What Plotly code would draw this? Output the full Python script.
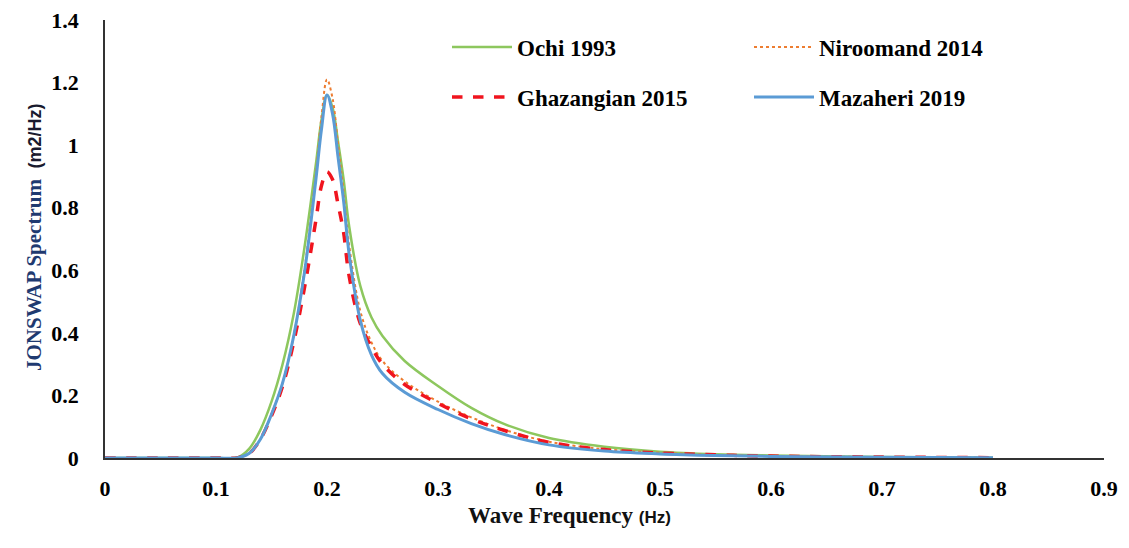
import plotly.graph_objects as go

freq = [0.00, 0.05, 0.10, 0.12, 0.13, 0.14, 0.15, 0.16, 0.17, 0.18, 0.19, 0.195, 0.20, 0.205, 0.21,
        0.215, 0.22, 0.23, 0.24, 0.25, 0.27, 0.30, 0.33, 0.36, 0.40, 0.45, 0.50, 0.55, 0.60, 0.70, 0.80]

ochi_1993 = [0, 0, 0, 0.003, 0.03, 0.09, 0.18, 0.30, 0.46, 0.68, 0.94, 1.08, 1.16, 1.12, 1.01,
             0.89, 0.74, 0.55, 0.45, 0.39, 0.31, 0.23, 0.16, 0.108, 0.064, 0.036, 0.02, 0.012, 0.008, 0.003, 0.001]
niroomand_2014 = [0, 0, 0, 0.001, 0.015, 0.06, 0.14, 0.24, 0.39, 0.61, 0.91, 1.09, 1.21, 1.15, 1.00,
                  0.85, 0.68, 0.47, 0.37, 0.31, 0.245, 0.18, 0.13, 0.09, 0.052, 0.028, 0.017, 0.01, 0.006, 0.003, 0.001]
ghazangian_2015 = [0, 0, 0, 0.001, 0.015, 0.06, 0.135, 0.23, 0.37, 0.55, 0.76, 0.87, 0.915, 0.89, 0.81,
                   0.72, 0.58, 0.43, 0.355, 0.30, 0.235, 0.175, 0.125, 0.088, 0.05, 0.027, 0.016, 0.01, 0.006, 0.003, 0.001]
mazaheri_2019 = [0, 0, 0, 0.001, 0.015, 0.06, 0.14, 0.24, 0.39, 0.60, 0.89, 1.05, 1.16, 1.10, 0.96,
                 0.82, 0.65, 0.44, 0.33, 0.27, 0.21, 0.155, 0.11, 0.075, 0.042, 0.022, 0.013, 0.008, 0.005, 0.002, 0.001]

x_ticks = [0, 0.1, 0.2, 0.3, 0.4, 0.5, 0.6, 0.7, 0.8, 0.9]
x_tick_labels = ["0", "0.1", "0.2", "0.3", "0.4", "0.5", "0.6", "0.7", "0.8", "0.9"]
y_ticks = [0, 0.2, 0.4, 0.6, 0.8, 1.0, 1.2, 1.4]
y_tick_labels = ["0", "0.2", "0.4", "0.6", "0.8", "1", "1.2", "1.4"]

SERIF = "Liberation Serif, Times New Roman, serif"

fig = go.Figure()
fig.add_trace(go.Scatter(x=freq, y=ochi_1993, name="Ochi 1993", mode="lines", line_shape="spline",
                         line=dict(color="#8DC75E", width=2.5), legend="legend"))
fig.add_trace(go.Scatter(x=freq, y=niroomand_2014, name="Niroomand 2014", mode="lines", line_shape="spline",
                         line=dict(color="#ED7D31", width=2, dash="dot"), legend="legend"))
fig.add_trace(go.Scatter(x=freq, y=ghazangian_2015, name="Ghazangian 2015", mode="lines", line_shape="spline",
                         line=dict(color="#F0141E", width=3.5, dash="dash"), legend="legend2"))
fig.add_trace(go.Scatter(x=freq, y=mazaheri_2019, name="Mazaheri 2019", mode="lines", line_shape="spline",
                         line=dict(color="#5B9BD5", width=3), legend="legend2"))

legend_common = dict(orientation="h", font=dict(family=SERIF, size=23, color="#000000", weight="bold"),
                     bgcolor="rgba(0,0,0,0)", entrywidth=227, entrywidthmode="pixels",
                     xanchor="left", yanchor="middle", itemwidth=60)

# page is rendered with an 8px body offset; target pixels below are page pixels
OFF = 8
W, H = 1129, 548
L, T = 105 - OFF, 20 - OFF
plot_w, plot_h = 999, 438
R = W - L - plot_w
B = H - T - plot_h


def px_x(x):
    return (x - OFF - L) / plot_w


def px_y(y):
    return (T + plot_h - (y - OFF)) / plot_h


fig.update_layout(
    width=W, height=H,
    margin=dict(l=L, r=R, t=T, b=B, autoexpand=False),
    paper_bgcolor="white", plot_bgcolor="white",
    showlegend=True,
    legend=dict(x=px_x(447), y=px_y(47), **legend_common),
    legend2=dict(x=px_x(447), y=px_y(97), **legend_common),
    xaxis=dict(range=[0, 0.9], tickvals=x_ticks, ticktext=x_tick_labels, showgrid=False, zeroline=False,
               showline=True, linecolor="#333333", linewidth=1.5, ticks="", ticklabelstandoff=10,
               automargin=False, ticklabeloverflow="allow",
               tickfont=dict(family=SERIF, size=22, color="#000000", weight="bold")),
    yaxis=dict(range=[0, 1.4], tickvals=y_ticks, ticktext=y_tick_labels, showgrid=False, zeroline=False,
               showline=True, linecolor="#333333", linewidth=1.5, ticks="", ticklabelstandoff=20,
               automargin=False, ticklabeloverflow="allow",
               tickfont=dict(family=SERIF, size=22, color="#000000", weight="bold")),
    annotations=[
        dict(text="<b>Wave Frequency</b> <span style='font-family:Liberation Sans, Arial; font-size:17px'><b>(Hz)</b></span>",
             x=px_x(569), y=px_y(530), xref="paper", yref="paper", showarrow=False,
             font=dict(family=SERIF, size=23, color="#111111")),
        dict(text="<b>JONSWAP Spectrum</b>  <span style='font-family:Liberation Sans, Arial; font-size:18px; color:#1a1a2e'><b>(m2/Hz)</b></span>",
             x=px_x(20), y=px_y(238), xref="paper", yref="paper", showarrow=False, textangle=-90,
             font=dict(family=SERIF, size=21, color="#1F3A70")),
    ],
)

fig.write_html("out.html")
